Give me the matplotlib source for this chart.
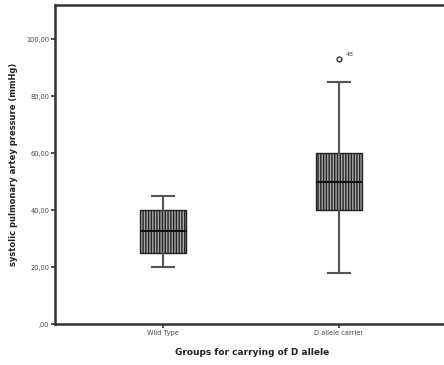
import matplotlib
matplotlib.use("Agg")
from matplotlib import pyplot as plt

# box summary per group (mmHg)
groups = ["Wild Type", "D allele carrier"]
whislo = [20, 18]
q1 = [25, 40]
med = [32.5, 50]
q3 = [40, 60]
whishi = [45, 85]
outliers = [[], [93]]
outlier_ids = [[], ["48"]]
yticks = [0, 20, 40, 60, 80, 100]
ytick_labels = [",00", "20,00", "40,00", "60,00", "80,00", "100,00"]

plt.rcParams['hatch.linewidth'] = 1.0

fig = plt.figure(figsize=(4.44, 3.65), dpi=100)
ax = fig.add_axes([55 / 444, 1 - 324 / 365, 1 - 55 / 444 + 0.01, (324 - 5) / 365])

stats = []
for i, g in enumerate(groups):
    stats.append(dict(label=g, whislo=whislo[i], q1=q1[i], med=med[i],
                      q3=q3[i], whishi=whishi[i], fliers=outliers[i]))

bp = ax.bxp(stats, positions=[1, 2], widths=0.26, patch_artist=True,
            capwidths=0.125,
            boxprops=dict(facecolor='#a8a8a8', edgecolor='#222222', linewidth=1.0, hatch='||||||'),
            medianprops=dict(color='#111111', linewidth=1.5),
            whiskerprops=dict(color='#555555', linewidth=1.5),
            capprops=dict(color='#555555', linewidth=1.5),
            flierprops=dict(marker='o', markersize=3.5, markerfacecolor='white',
                            markeredgecolor='#444444', markeredgewidth=1.1))

for i, ids in enumerate(outlier_ids):
    for val, lab in zip(outliers[i], ids):
        ax.annotate(lab, (i + 1, val), xytext=(5, 2), textcoords='offset points',
                    fontsize=4.5, color='#444444')

ax.set_xlim(0.39, 2.62)
ax.set_ylim(0, 112)
ax.set_yticks(yticks)
ax.set_yticklabels(ytick_labels, fontsize=4.8, color='#444444')
ax.set_xticks([1, 2])
ax.set_xticklabels(groups, fontsize=4.8, color='#444444')
ax.tick_params(axis='both', direction='out', length=3, width=1.2, color='#333333', pad=1)

for s in ['left', 'bottom', 'top']:
    ax.spines[s].set_linewidth(1.8)
    ax.spines[s].set_color('#333333')
ax.spines['right'].set_visible(False)

ax.set_xlabel("Groups for carrying of D allele", fontsize=6.5, fontweight='bold',
              color='#222222', labelpad=9)
ax.set_ylabel("systolic pulmonary artey pressure (mmHg)", fontsize=6, fontweight='bold',
              color='#222222', labelpad=6)

fig.savefig("out.png", dpi=100)
